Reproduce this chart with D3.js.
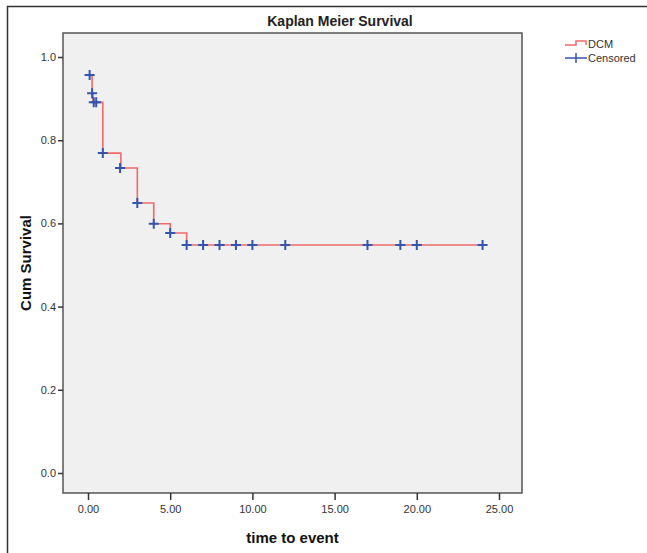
<!DOCTYPE html>
<html>
<head>
<meta charset="utf-8">
<script src="https://cdn.jsdelivr.net/npm/d3@7"></script>
<style>
  body { margin: 0; background: #fff; }
  text { font-family: "Liberation Sans", Arial, sans-serif; }
</style>
</head>
<body>
<svg width="647" height="553"></svg>
<script>
(function(){
    // step curve: time of each drop and survival after it
    var stepTimes = [0.1, 0.25, 0.3, 0.9, 2, 3, 4, 5, 6],
        stepSurvival = [0.957, 0.913, 0.891, 0.769, 0.733, 0.649, 0.599, 0.577, 0.548],
        lastTime = 24;

    var censorTimes = [0.1, 0.25, 0.35, 0.5, 0.9, 1.95, 3, 4, 5, 6, 7, 8, 9, 10, 12, 17, 19, 20, 24],
        censorSurvival = [0.957, 0.913, 0.891, 0.891, 0.769, 0.733, 0.649, 0.599, 0.577, 0.548, 0.548, 0.548, 0.548, 0.548, 0.548, 0.548, 0.548, 0.548, 0.548];

    var xTicks = [0, 5, 10, 15, 20, 25],
        yTicks = [0, 0.2, 0.4, 0.6, 0.8, 1.0];

    var plotLeft = 63, plotRight = 522, plotTop = 33, plotBottom = 493,
        red = "#f06a6a", blue = "#3554ad";

    var svg = d3.select("svg");

    // outer frame
    svg.append("rect")
        .attr("x", 7.5).attr("y", 6.5)
        .attr("width", 660).attr("height", 560)
        .attr("fill", "none").attr("stroke", "#333").attr("stroke-width", 1.5);

    var x = d3.scaleLinear().domain([0, 25]).range([88, 499]),
        y = d3.scaleLinear().domain([0, 1]).range([473, 57]);

    svg.append("rect")
        .attr("x", plotLeft).attr("y", plotTop)
        .attr("width", plotRight - plotLeft).attr("height", plotBottom - plotTop)
        .attr("fill", "#f0f0f0").attr("stroke", "#555").attr("stroke-width", 1.5);

    var xAxis = svg.append("g")
        .attr("transform", "translate(0," + plotBottom + ")")
        .call(d3.axisBottom(x).tickValues(xTicks).tickFormat(d3.format(".2f")).tickSize(7).tickPadding(5));
    var yAxis = svg.append("g")
        .attr("transform", "translate(" + plotLeft + ",0)")
        .call(d3.axisLeft(y).tickValues(yTicks).tickFormat(d3.format(".1f")).tickSize(5).tickPadding(2));

    [xAxis, yAxis].forEach(function(g){
        g.select(".domain").remove();
        g.selectAll("line").attr("stroke", "#333").attr("stroke-width", 1.5);
        g.selectAll("text").attr("fill", "#333").style("font-size", "11px");
    });

    // survival curve
    var pts = [[stepTimes[0], stepSurvival[0]]];
    for (var i = 1; i < stepTimes.length; i++) {
        pts.push([stepTimes[i], stepSurvival[i - 1]]);
        pts.push([stepTimes[i], stepSurvival[i]]);
    }
    pts.push([lastTime, stepSurvival[stepSurvival.length - 1]]);

    svg.append("path")
        .datum(pts)
        .attr("fill", "none")
        .attr("stroke", red)
        .attr("stroke-width", 1.6)
        .attr("d", d3.line().x(function(d){ return x(d[0]); }).y(function(d){ return y(d[1]); }));

    // censored marks
    var marks = censorTimes.map(function(t, i){ return {t: t, s: censorSurvival[i]}; });
    svg.selectAll("path.censor")
        .data(marks)
        .enter()
        .append("path")
        .attr("class", "censor")
        .attr("fill", "none")
        .attr("stroke", blue)
        .attr("stroke-width", 2)
        .attr("d", function(d){
            var cx = x(d.t), cy = y(d.s);
            return "M" + (cx - 5) + "," + cy + "H" + (cx + 5) + "M" + cx + "," + (cy - 5) + "V" + (cy + 5);
        });

    // titles
    svg.append("text")
        .attr("x", 340).attr("y", 26)
        .attr("text-anchor", "middle")
        .style("font-size", "14px").style("font-weight", "bold")
        .attr("fill", "#222")
        .text("Kaplan Meier Survival");

    svg.append("text")
        .attr("x", (plotLeft + plotRight) / 2).attr("y", 543)
        .attr("text-anchor", "middle")
        .style("font-size", "15px").style("font-weight", "bold")
        .attr("fill", "#111")
        .text("time to event");

    svg.append("text")
        .attr("transform", "translate(31," + (plotTop + plotBottom) / 2 + ") rotate(-90)")
        .attr("text-anchor", "middle")
        .style("font-size", "15px").style("font-weight", "bold")
        .attr("fill", "#111")
        .text("Cum Survival");

    // legend
    var legend = svg.append("g");
    legend.append("path")
        .attr("fill", "none").attr("stroke", red).attr("stroke-width", 1.5)
        .attr("d", "M565,45H576V41H586V45");
    legend.append("text")
        .attr("x", 588).attr("y", 48)
        .style("font-size", "11px").attr("fill", "#333")
        .text("DCM");
    legend.append("path")
        .attr("fill", "none").attr("stroke", blue).attr("stroke-width", 1.5)
        .attr("d", "M565,58H587M576,53V63");
    legend.append("text")
        .attr("x", 588).attr("y", 62)
        .style("font-size", "11px").attr("fill", "#333")
        .text("Censored");
})();
</script>
</body>
</html>
